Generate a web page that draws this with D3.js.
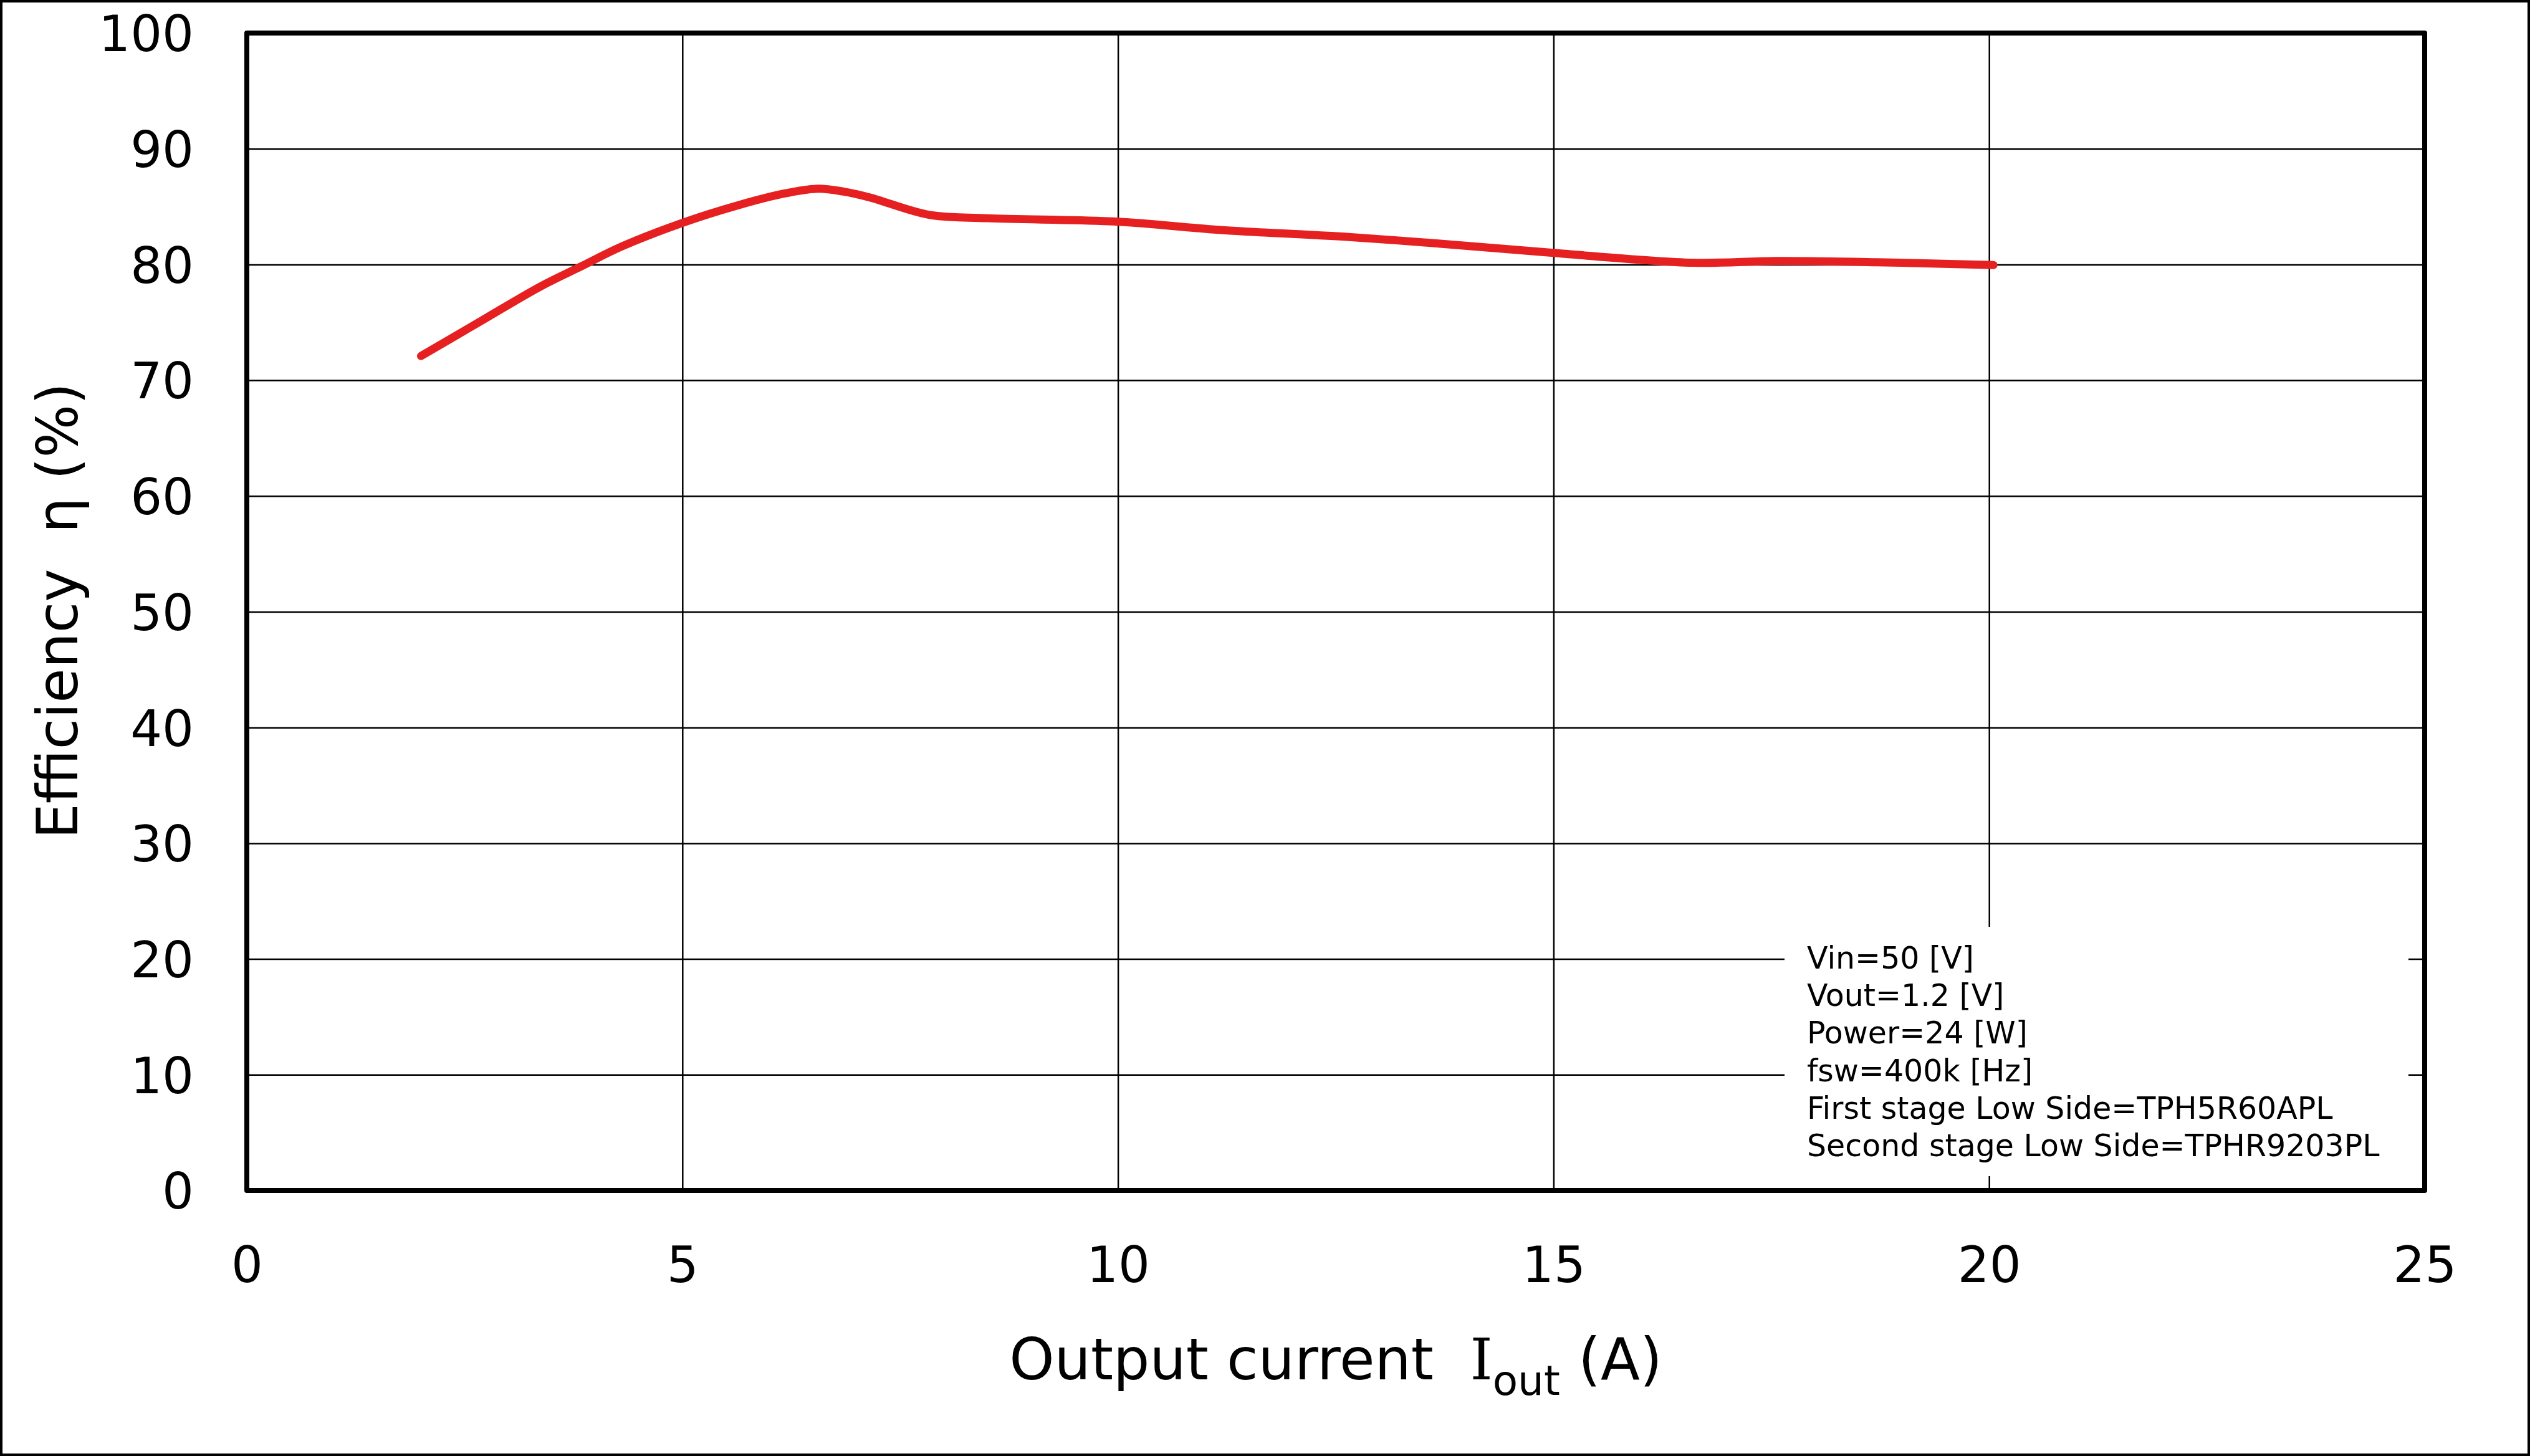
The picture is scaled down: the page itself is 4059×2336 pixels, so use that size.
<!DOCTYPE html>
<html>
<head>
<meta charset="utf-8">
<script src="https://cdn.jsdelivr.net/npm/d3@7"></script>
<style>
html,body{margin:0;padding:0;background:#fff;}
svg{display:block;}
</style>
</head>
<body>
<script>
// ---- data ----
const currentA = [2.0, 2.65, 3.37, 3.84, 4.3, 5.0, 5.63, 6.18, 6.56, 6.85, 7.15, 7.83, 8.5, 10.0, 11.15, 12.6, 13.7, 15.0, 16.6, 17.55, 18.7, 20.05];
const efficiency = [72.1, 74.95, 78.1, 79.85, 81.55, 83.6, 85.1, 86.15, 86.55, 86.3, 85.8, 84.3, 84.0, 83.7, 83.0, 82.4, 81.8, 81.0, 80.15, 80.3, 80.2, 79.95];
const xTicks = [0, 5, 10, 15, 20, 25];
const yTicks = [0, 10, 20, 30, 40, 50, 60, 70, 80, 90, 100];
const noteLines = [
  "Vin=50 [V]",
  "Vout=1.2 [V]",
  "Power=24 [W]",
  "fsw=400k [Hz]",
  "First stage Low Side=TPH5R60APL",
  "Second stage Low Side=TPHR9203PL"
];

const W = 4059, H = 2336;
const L = 396, R = 3890, T = 53, B = 1910;
const FONT = "'DejaVu Sans', Verdana, sans-serif";

const svg = d3.select("body").append("svg").attr("width", W).attr("height", H);
svg.append("rect").attr("width", W).attr("height", H).attr("fill", "#fff");

const x = d3.scaleLinear().domain([0, 25]).range([L, R]);
const y = d3.scaleLinear().domain([0, 100]).range([B, T]);

// gridlines + labels via axes
const gx = svg.append("g").attr("transform", `translate(0,${B})`)
  .call(d3.axisBottom(x).tickValues(xTicks).tickSize(-(B - T)).tickFormat(d3.format("d")));
gx.select(".domain").remove();
gx.selectAll(".tick line").attr("stroke", "#000").attr("stroke-width", 2.5);
gx.selectAll(".tick text").attr("y", 147).attr("dy", null)
  .attr("font-family", FONT).attr("font-size", 80).attr("fill", "#000");

const gy = svg.append("g").attr("transform", `translate(${L},0)`)
  .call(d3.axisLeft(y).tickValues(yTicks).tickSize(-(R - L)).tickFormat(d3.format("d")));
gy.select(".domain").remove();
gy.selectAll(".tick line").attr("stroke", "#000").attr("stroke-width", 2.5);
gy.selectAll(".tick text").attr("x", -85).attr("dy", "0.36em")
  .attr("font-family", FONT).attr("font-size", 80).attr("fill", "#000");

// annotation box (white, hides gridlines)
svg.append("rect").attr("x", 2863).attr("y", 1487).attr("width", 1001).attr("height", 400).attr("fill", "#fff");
const note = svg.append("g");
noteLines.forEach((t, i) => {
  note.append("text").attr("x", 2899).attr("y", 1554 + i * 60.2)
    .attr("font-family", FONT).attr("font-size", 49).attr("fill", "#000").text(t);
});

// curve
const line = d3.line().x((d, i) => x(currentA[i])).y(d => y(d)).curve(d3.curveCatmullRom.alpha(0.5));
svg.append("path").datum(efficiency).attr("d", line)
  .attr("fill", "none").attr("stroke", "#E62020").attr("stroke-width", 13)
  .attr("stroke-linecap", "round").attr("stroke-linejoin", "round");

// plot frame
svg.append("rect").attr("x", L).attr("y", T).attr("width", R - L).attr("height", B - T)
  .attr("fill", "none").attr("stroke", "#000").attr("stroke-width", 8).attr("stroke-linejoin", "round");

// axis titles
const xt = svg.append("text").attr("x", (L + R) / 2).attr("y", 2213).attr("text-anchor", "middle")
  .attr("font-family", FONT).attr("font-size", 92).attr("fill", "#000");
xt.append("tspan").text("Output current\u00A0\u00A0");
xt.append("tspan").attr("font-family", "'DejaVu Serif', serif").text("I");
xt.append("tspan").attr("font-size", 66).attr("dy", 25).text("out");
xt.append("tspan").attr("dy", -25).text("\u00A0(A)");

svg.append("text").attr("transform", `translate(124,980) rotate(-90)`).attr("text-anchor", "middle")
  .attr("font-family", FONT).attr("font-size", 90).attr("fill", "#000")
  .text("Efficiency\u00A0\u00A0η (%)");

// outer border
svg.append("rect").attr("x", 2).attr("y", 2).attr("width", W - 4).attr("height", H - 4)
  .attr("fill", "none").attr("stroke", "#000").attr("stroke-width", 4);
</script>
</body>
</html>
